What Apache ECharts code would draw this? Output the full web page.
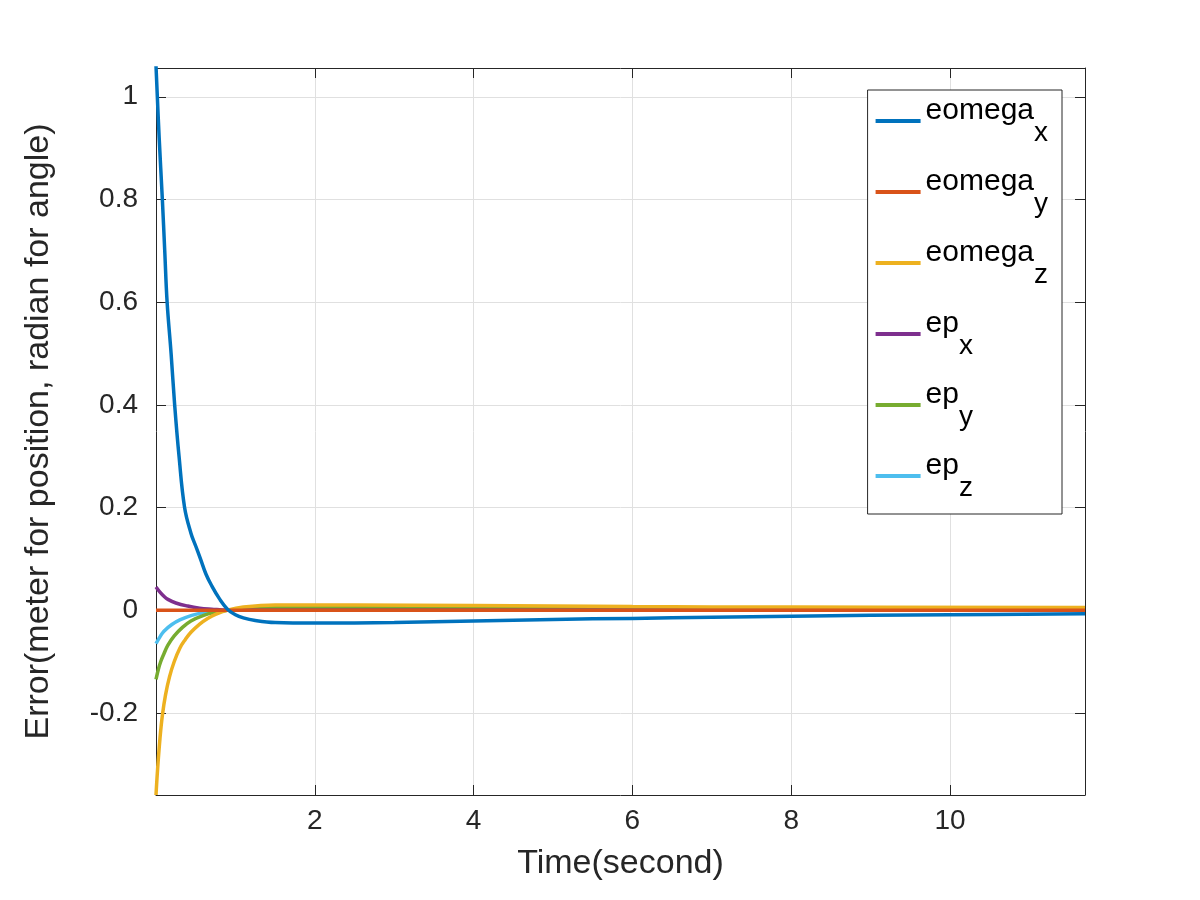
<!DOCTYPE html>
<html><head><meta charset="utf-8">
<script src="https://cdn.jsdelivr.net/npm/echarts@6/dist/echarts.min.js"></script>
<style>html,body{margin:0;background:#fff}#c{width:1200px;height:900px}</style>
</head><body><div id="c"></div>
<script>
const xTicks = [2, 4, 6, 8, 10];
const yTicks = [-0.2, 0, 0.2, 0.4, 0.6, 0.8, 1];
const seriesNames = ['eomega_x','eomega_y','eomega_z','ep_x','ep_y','ep_z'];
const colors = ['#0072BD','#D95319','#EDB120','#7E2F8E','#77AC30','#4DBEEE'];
const eomegaX = [[0,1.06],[0.04,0.92],[0.08,0.8],[0.11,0.7],[0.14,0.6],[0.19,0.5],[0.235,0.4],[0.29,0.3],[0.36,0.2],[0.44,0.15],[0.5,0.125],[0.56,0.1],[0.63,0.07],[0.7,0.048],[0.8,0.022],[0.9,0.002],[1.0,-0.009],[1.1,-0.015],[1.25,-0.02],[1.5,-0.024],[2,-0.025],[3,-0.024],[4,-0.021],[5,-0.018],[6,-0.016],[7,-0.014],[8,-0.012],[9,-0.01],[10,-0.009],[11.7,-0.007]];
const eomegaY = [[0,0],[2,0],[6,0],[11.7,0]];
const eomegaZ = [[0,-0.36],[0.02,-0.31],[0.05,-0.25],[0.08,-0.205],[0.12,-0.165],[0.17,-0.13],[0.23,-0.1],[0.3,-0.074],[0.37,-0.057],[0.44,-0.043],[0.55,-0.027],[0.65,-0.016],[0.75,-0.008],[0.9,0],[1.1,0.006],[1.5,0.01],[2.5,0.01],[4,0.009],[6,0.007],[8,0.006],[11.7,0.005]];
const epX = [[0,0.045],[0.05,0.035],[0.1,0.027],[0.15,0.021],[0.25,0.014],[0.4,0.008],[0.55,0.004],[0.7,0.002],[0.9,0],[2,0],[11.7,0]];
const epY = [[0,-0.135],[0.03,-0.115],[0.06,-0.1],[0.1,-0.085],[0.15,-0.068],[0.23,-0.05],[0.33,-0.034],[0.44,-0.021],[0.6,-0.01],[0.75,-0.004],[0.9,0],[1.2,0.004],[2,0.005],[6,0.004],[11.7,0.004]];
const epZ = [[0,-0.065],[0.05,-0.052],[0.1,-0.041],[0.2,-0.028],[0.3,-0.019],[0.45,-0.01],[0.6,-0.005],[0.9,0],[1.3,0.003],[3,0.003],[11.7,0.003]];
const allData = [eomegaX, eomegaY, eomegaZ, epX, epY, epZ];

const txt = '#262626';
const font = 'Liberation Sans';
const chart = echarts.init(document.getElementById('c'));
chart.setOption({
  animation:false,
  grid:{left:156,right:115,top:68,bottom:105},
  xAxis:[
    {type:'value',position:'bottom',min:0,max:11.7,
     axisLine:{show:true,onZero:false,lineStyle:{color:txt}},
     axisTick:{show:true,inside:true,length:10,lineStyle:{color:txt},customValues:xTicks},
     axisLabel:{color:txt,fontSize:28,fontFamily:font,margin:12,customValues:xTicks},
     splitLine:{show:true,lineStyle:{color:'#e0e0e0'}},
     name:'Time(second)',nameLocation:'middle',nameGap:52,nameTextStyle:{color:txt,fontSize:34,fontFamily:font}},
    {type:'value',position:'top',min:0,max:11.7,
     axisLine:{show:true,onZero:false,lineStyle:{color:txt}},
     axisTick:{show:true,inside:true,length:10,lineStyle:{color:txt},customValues:xTicks},
     axisLabel:{show:false},splitLine:{show:false}}
  ],
  yAxis:[
    {type:'value',position:'left',min:-0.36,max:1.056,
     axisLine:{show:true,onZero:false,lineStyle:{color:txt}},
     axisTick:{show:true,inside:true,length:10,lineStyle:{color:txt},customValues:yTicks},
     axisLabel:{color:txt,fontSize:28,fontFamily:font,margin:18,customValues:yTicks},
     splitLine:{show:true,lineStyle:{color:'#e0e0e0'}},
     name:'Error(meter for position, radian for angle)',nameLocation:'middle',nameGap:100,
     nameTextStyle:{color:txt,fontSize:34,fontFamily:font}},
    {type:'value',position:'right',min:-0.36,max:1.056,
     axisLine:{show:true,onZero:false,lineStyle:{color:txt}},
     axisTick:{show:true,inside:true,length:10,lineStyle:{color:txt},customValues:yTicks},
     axisLabel:{show:false},splitLine:{show:false}}
  ],
  legend:{
    orient:'vertical',right:138,top:90,
    backgroundColor:'#fff',borderColor:txt,borderWidth:1,
    padding:[6,14,12,8],itemGap:20,itemWidth:45,itemHeight:4,icon:'rect',
    data:seriesNames,
    formatter:function(n){const p=n.split('_');return '{b|'+p[0]+'}{s|'+p[1]+'}';},
    textStyle:{rich:{
      b:{fontSize:30,color:'#000',fontFamily:font,padding:[0,0,20,0]},
      s:{fontSize:28,color:'#000',fontFamily:font,padding:[24,0,0,0]}
    }}
  },
  series: seriesNames.map((n,i)=>({
    name:n,type:'line',data:allData[i],showSymbol:false,symbol:'none',smooth:0.4,
    lineStyle:{width:3.5,color:colors[i]},itemStyle:{color:colors[i]},z:10-i+(i==0?5:0)
  }))
});
</script></body></html>
